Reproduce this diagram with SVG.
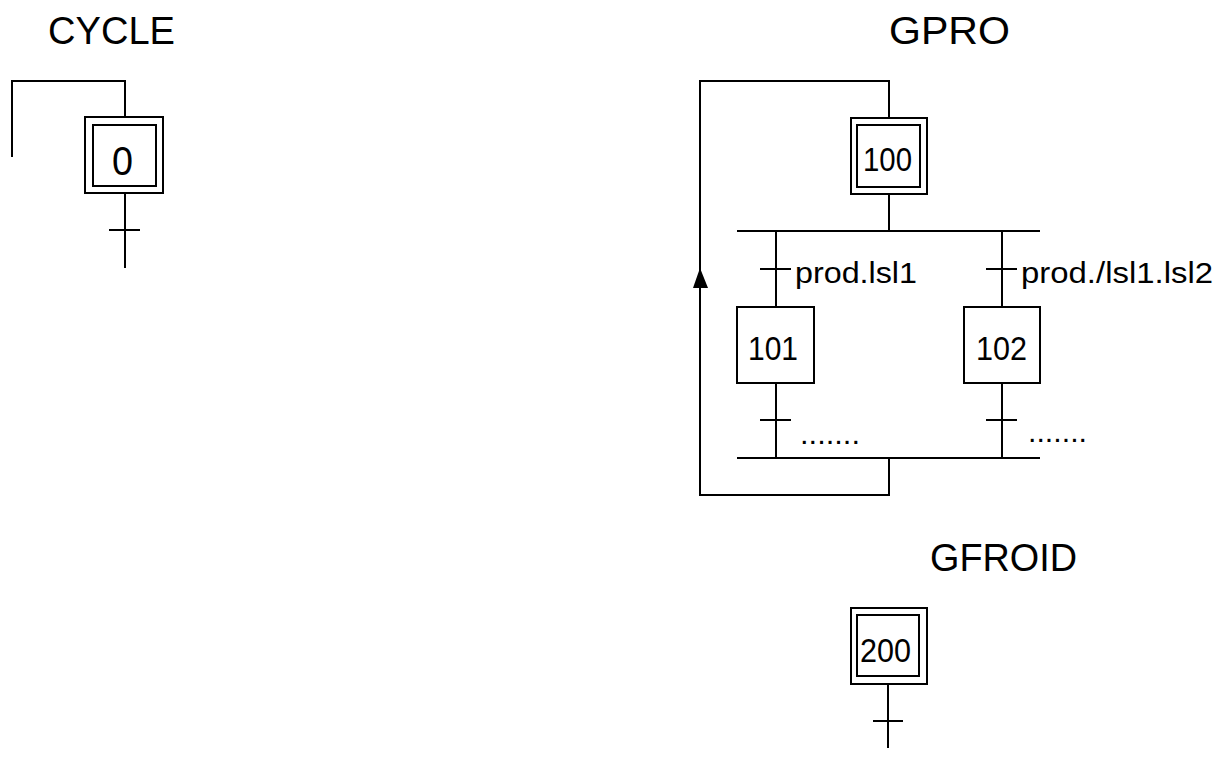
<svg xmlns="http://www.w3.org/2000/svg" width="1228" height="758" viewBox="0 0 1228 758">
<style>
.l{fill:none;stroke:#000;stroke-width:2}
.t{font-family:"Liberation Sans",Arial,sans-serif;fill:#000}
.title{font-size:38px}
.num{font-size:33px}
.lab{font-size:30px}
</style>
<rect width="1228" height="758" fill="#fff"/>
<text class="t title" x="48" y="44" textLength="127" lengthAdjust="spacingAndGlyphs">CYCLE</text>
<text class="t title" x="889" y="44" textLength="121" lengthAdjust="spacingAndGlyphs">GPRO</text>
<text class="t title" x="930" y="571" textLength="147" lengthAdjust="spacingAndGlyphs">GFROID</text>
<g id="connectors">
<polyline class="l" points="12,157 12,81 125,81 125,118"/>
<line class="l" x1="125" y1="193" x2="125" y2="268"/>
<line class="l" x1="109" y1="230" x2="140" y2="230"/>
<polyline class="l" points="889,118 889,81 700,81 700,495 889,495 889,458"/>
<polygon points="700,268 693,288 708,288" fill="#000"/>
<line class="l" x1="889" y1="194" x2="889" y2="231"/>
<line class="l" x1="737" y1="231" x2="1040" y2="231"/>
<line class="l" x1="776" y1="231" x2="776" y2="307"/>
<line class="l" x1="1002" y1="231" x2="1002" y2="307"/>
<line class="l" x1="760" y1="269" x2="791" y2="269"/>
<line class="l" x1="986" y1="269" x2="1017" y2="269"/>
<line class="l" x1="776" y1="383" x2="776" y2="458"/>
<line class="l" x1="1002" y1="383" x2="1002" y2="458"/>
<line class="l" x1="760" y1="420" x2="791" y2="420"/>
<line class="l" x1="986" y1="420" x2="1017" y2="420"/>
<line class="l" x1="737" y1="458" x2="1040" y2="458"/>
<line class="l" x1="888" y1="684" x2="888" y2="748"/>
<line class="l" x1="873" y1="721" x2="903" y2="721"/>
<text class="t lab" x="795" y="283" textLength="122" lengthAdjust="spacingAndGlyphs">prod.lsl1</text>
<text class="t lab" x="1021" y="283" textLength="192" lengthAdjust="spacingAndGlyphs">prod./lsl1.lsl2</text>
<text class="t lab" x="800" y="444" textLength="60" lengthAdjust="spacingAndGlyphs">.......</text>
<text class="t lab" x="1028" y="442" textLength="59" lengthAdjust="spacingAndGlyphs">.......</text>
</g>
<g id="step0">
<rect class="l" x="85" y="117" width="78" height="76"/>
<rect class="l" x="93" y="125" width="63" height="61"/>
<text class="t" font-size="40" x="112" y="175" textLength="21" lengthAdjust="spacingAndGlyphs">0</text>
</g>
<g id="step100">
<rect class="l" x="851" y="118" width="76" height="76"/>
<rect class="l" x="857" y="125" width="63" height="62"/>
<text class="t num" x="863" y="171" textLength="49" lengthAdjust="spacingAndGlyphs">100</text>
</g>
<g id="step101">
<rect class="l" x="737" y="307" width="77" height="76"/>
<text class="t num" x="748" y="360" textLength="50" lengthAdjust="spacingAndGlyphs">101</text>
</g>
<g id="step102">
<rect class="l" x="964" y="307" width="76" height="76"/>
<text class="t num" x="976" y="360" textLength="51" lengthAdjust="spacingAndGlyphs">102</text>
</g>
<g id="step200">
<rect class="l" x="851" y="608" width="76" height="76"/>
<rect class="l" x="857" y="615" width="62" height="61"/>
<text class="t num" x="860" y="662" textLength="51" lengthAdjust="spacingAndGlyphs">200</text>
</g>
</svg>
